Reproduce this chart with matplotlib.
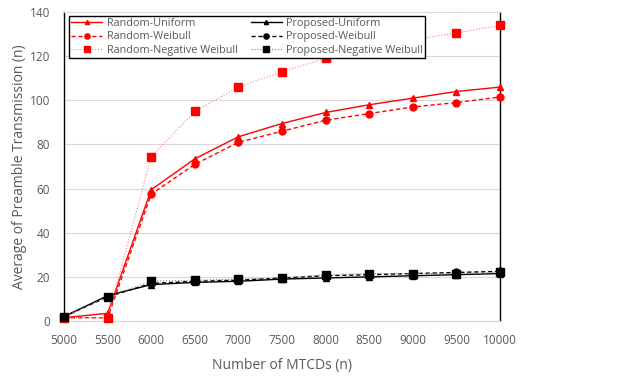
import matplotlib
matplotlib.use("Agg")
import matplotlib.pyplot as plt

plt.rcParams['font.family'] = ['Open Sans', 'DejaVu Sans']

x = [5000, 5500, 6000, 6500, 7000, 7500, 8000, 8500, 9000, 9500, 10000]
random_uniform = [1.5, 3.5, 59.5, 73.5, 83.5, 89.5, 94.5, 98, 101, 104, 106]
random_weibull = [1.5, 1.5, 57.5, 71, 81, 86, 91, 94, 97, 99, 101.5]
random_negweibull = [1.5, 1.5, 74.5, 95, 106, 113, 119, 124, 127.5, 130.5, 134]
proposed_uniform = [2, 11.5, 16.5, 17.5, 18, 19, 19.5, 20, 20.5, 21, 21.5]
proposed_weibull = [2, 11, 17, 18, 18.5, 19.5, 20.5, 21, 21.5, 22, 22.5]
proposed_negweibull = [2, 11, 18, 18.5, 19, 19.5, 21, 21.5, 21.5, 21.5, 22]
xticks = [5000, 5500, 6000, 6500, 7000, 7500, 8000, 8500, 9000, 9500, 10000]
yticks = [0, 20, 40, 60, 80, 100, 120, 140]

fig = plt.figure(figsize=(6.18, 3.77), dpi=100)
ax = fig.add_axes([0.1036, 0.1485, 0.7055, 0.8195])

red = '#FF0000'
ax.plot(x, random_uniform, color=red, ls='-', lw=1.0, marker='^', ms=4, label='Random-Uniform', clip_on=False, zorder=3)
ax.plot(x, random_weibull, color=red, ls=(0, (3, 2)), lw=1.0, marker='o', ms=5, label='Random-Weibull', clip_on=False, zorder=3)
ax.plot(x, random_negweibull, color='#FF8080', ls=':', lw=0.8, marker='s', ms=6, mfc=red, mec=red, label='Random-Negative Weibull', clip_on=False, zorder=3)
ax.plot(x, proposed_uniform, color='black', ls='-', lw=1.0, marker='^', ms=4, label='Proposed-Uniform', clip_on=False, zorder=3)
ax.plot(x, proposed_weibull, color='black', ls=(0, (3, 2)), lw=1.0, marker='o', ms=5, label='Proposed-Weibull', clip_on=False, zorder=3)
ax.plot(x, proposed_negweibull, color='#808080', ls=':', lw=0.8, marker='s', ms=6, mfc='black', mec='black', label='Proposed-Negative Weibull', clip_on=False, zorder=3)

ax.set_xlim(5000, 10000)
ax.set_ylim(0, 140)
ax.set_xticks(xticks)
ax.set_yticks(yticks)
ax.grid(axis='y', color='#D9D9D9', lw=0.8)
ax.set_axisbelow(True)
for s in ['bottom', 'top']:
    ax.spines[s].set_color('#D9D9D9')
    ax.spines[s].set_linewidth(0.8)
ax.spines['left'].set_color('black')
ax.spines['right'].set_color('black')
ax.spines['left'].set_linewidth(1.0)
ax.spines['right'].set_linewidth(1.0)
ax.tick_params(axis='both', length=0, labelsize=8.5, colors='#595959')
ax.tick_params(axis='x', pad=9)
ax.tick_params(axis='y', pad=10)
ax.set_xlabel('Number of MTCDs (n)', fontsize=10, color='#595959', labelpad=8)
ax.set_ylabel('Average of Preamble Transmission (n)', fontsize=10, color='#595959', labelpad=2)

leg = ax.legend(loc='upper left', ncol=2, fontsize=7.8, frameon=True, fancybox=False,
                edgecolor='black', framealpha=1, borderpad=0.2, labelspacing=0.2,
                handlelength=2.9, columnspacing=1.2, handletextpad=0.4, markerscale=0.75,
                borderaxespad=0, bbox_to_anchor=(0.011, 0.987))
leg.set_zorder(5)
leg.get_frame().set_linewidth(1.0)
for t in leg.get_texts():
    t.set_color('#595959')

fig.savefig('out.png', dpi=100)
